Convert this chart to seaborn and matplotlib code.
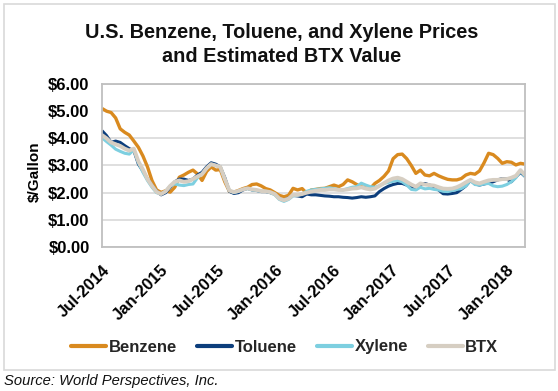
import matplotlib
matplotlib.use('Agg')
import matplotlib.pyplot as plt
from matplotlib.patches import Rectangle
from matplotlib.transforms import ScaledTranslation
from matplotlib.ticker import FuncFormatter, MultipleLocator
import seaborn as sns
import pandas as pd

# ---------------- data (semi-monthly readings, Jul-2014 .. Feb-2018) ----------------
start_date = '2014-07-01'
end_date = '2018-03-01'

benzene = [5.10, 5.00, 4.95, 4.75, 4.35, 4.22, 4.12, 3.90, 3.67, 3.35,
           2.95, 2.44, 2.10, 2.01, 2.07, 2.02, 2.20, 2.57, 2.65, 2.75,
           2.83, 2.69, 2.45, 2.78, 2.95, 2.83, 2.85, 2.40, 2.05, 2.02,
           2.08, 2.15, 2.20, 2.30, 2.32, 2.25, 2.15, 2.10, 2.00, 1.90,
           1.85, 1.90, 2.16, 2.10, 2.15, 1.98, 2.10, 2.12, 2.15, 2.16,
           2.22, 2.28, 2.22, 2.30, 2.47, 2.40, 2.30, 2.22, 2.18, 2.16,
           2.34, 2.45, 2.60, 2.80, 3.25, 3.40, 3.42, 3.25, 3.00, 2.71,
           2.83, 2.65, 2.62, 2.71, 2.62, 2.55, 2.49, 2.47, 2.47, 2.52,
           2.65, 2.71, 2.68, 2.80, 3.10, 3.45, 3.40, 3.26, 3.08, 3.14,
           3.12, 3.02, 3.08, 3.05]

toluene = [4.28, 4.10, 3.85, 3.90, 3.85, 3.73, 3.62, 3.55, 3.05, 2.80,
           2.50, 2.26, 2.05, 1.92, 2.00, 2.20, 2.40, 2.50, 2.50, 2.45,
           2.50, 2.65, 2.75, 2.95, 3.10, 3.05, 2.95, 2.55, 2.05, 1.97,
           2.00, 2.10, 2.16, 2.10, 2.08, 2.04, 2.04, 2.00, 1.95, 1.78,
           1.72, 1.80, 1.90, 1.88, 1.85, 1.95, 1.92, 1.92, 1.90, 1.88,
           1.87, 1.85, 1.85, 1.83, 1.82, 1.80, 1.82, 1.85, 1.83, 1.85,
           1.88, 2.04, 2.15, 2.24, 2.30, 2.34, 2.34, 2.28, 2.22, 2.12,
           2.28, 2.34, 2.28, 2.22, 2.10, 1.96, 1.95, 1.97, 2.00, 2.12,
           2.25, 2.45, 2.32, 2.28, 2.32, 2.36, 2.40, 2.47, 2.52, 2.50,
           2.40, 2.58, 2.75, 2.60]

xylene = [4.02, 3.88, 3.75, 3.60, 3.52, 3.45, 3.42, 3.58, 3.10, 2.75,
          2.45, 2.20, 2.00, 1.95, 2.05, 2.25, 2.32, 2.28, 2.26, 2.30,
          2.32, 2.55, 2.70, 2.90, 3.05, 3.00, 2.95, 2.50, 2.08, 2.00,
          2.05, 2.12, 2.15, 2.10, 2.08, 2.05, 2.05, 2.00, 1.92, 1.75,
          1.68, 1.75, 1.88, 1.90, 1.95, 2.05, 2.10, 2.12, 2.14, 2.16,
          2.18, 2.15, 2.12, 2.10, 2.15, 2.20, 2.22, 2.35, 2.28, 2.22,
          2.20, 2.25, 2.34, 2.38, 2.42, 2.45, 2.40, 2.28, 2.12, 2.10,
          2.20, 2.14, 2.16, 2.12, 2.10, 2.05, 2.04, 2.08, 2.12, 2.15,
          2.25, 2.45, 2.30, 2.28, 2.32, 2.34, 2.25, 2.22, 2.24, 2.30,
          2.40, 2.55, 2.80, 2.60]

btx = [4.12, 4.00, 3.85, 3.78, 3.72, 3.62, 3.55, 3.62, 3.15, 2.85,
       2.50, 2.25, 2.03, 1.95, 2.05, 2.25, 2.40, 2.45, 2.40, 2.42,
       2.50, 2.60, 2.68, 2.90, 3.05, 3.00, 2.95, 2.50, 2.08, 2.02,
       2.06, 2.12, 2.16, 2.12, 2.10, 2.06, 2.05, 2.02, 1.95, 1.78,
       1.72, 1.78, 1.92, 1.92, 1.95, 2.00, 2.04, 2.07, 2.10, 2.10,
       2.12, 2.12, 2.10, 2.10, 2.12, 2.15, 2.16, 2.20, 2.15, 2.12,
       2.15, 2.25, 2.35, 2.45, 2.52, 2.55, 2.50, 2.40, 2.30, 2.22,
       2.34, 2.30, 2.28, 2.26, 2.20, 2.15, 2.14, 2.15, 2.20, 2.28,
       2.38, 2.47, 2.38, 2.34, 2.40, 2.45, 2.47, 2.47, 2.50, 2.50,
       2.55, 2.62, 2.83, 2.65]

series_names = ['Benzene', 'Toluene', 'Xylene', 'BTX']
tick_labels = ['Jul-2014', 'Jan-2015', 'Jul-2015', 'Jan-2016',
               'Jul-2016', 'Jan-2017', 'Jul-2017', 'Jan-2018']

# ---------------- styling ----------------
colors = {'Benzene': '#D98A1F', 'Toluene': '#0C3E7C',
          'Xylene': '#7DCFE0', 'BTX': '#D6CEC2'}
widths = {'Benzene': 2.4, 'Toluene': 2.2, 'Xylene': 2.2, 'BTX': 2.8}

sns.set_theme(style='white')
plt.rcParams['font.family'] = ['Liberation Sans', 'DejaVu Sans']

W, H = 558, 391
fig = plt.figure(figsize=(W / 100, H / 100), dpi=100)
fig.patch.set_facecolor('white')
ax = fig.add_axes([102 / W, 1 - 247 / H, 423 / W, 163 / H])

dates = pd.date_range(start_date, end_date, periods=len(benzene))
values = {'Benzene': benzene, 'Toluene': toluene, 'Xylene': xylene, 'BTX': btx}
df = pd.concat([pd.DataFrame({'Date': dates, 'Price': values[n], 'Product': n})
                for n in series_names], ignore_index=True)

for n in series_names:
    sns.lineplot(data=df[df['Product'] == n], x='Date', y='Price',
                 color=colors[n], linewidth=widths[n], ax=ax, label=n,
                 solid_joinstyle='round', solid_capstyle='butt')

ax.set_xlim(dates[0], dates[-1])
ax.set_ylim(0, 6)
ax.yaxis.set_major_locator(MultipleLocator(1))
ax.yaxis.set_major_formatter(FuncFormatter(lambda v, p: f'${v:.2f}'))
ax.grid(axis='y', color='#D9D9D9', linewidth=1.2)
ax.grid(axis='x', visible=False)
ax.set_axisbelow(True)
for s in ax.spines.values():
    s.set_color('#BFBFBF')
    s.set_linewidth(1.3)

tick_dates = pd.to_datetime(tick_labels, format='%b-%Y')
ax.set_xticks(tick_dates)
ax.set_xticklabels(tick_labels, rotation=45, ha='right', va='top',
                   rotation_mode='anchor', fontsize=12, fontweight='bold')
for lab in ax.get_xticklabels():
    lab.set_transform(lab.get_transform() + ScaledTranslation(0.04, 0, fig.dpi_scale_trans))
for lab in ax.get_yticklabels():
    lab.set_fontsize(12)
    lab.set_fontweight('bold')
ax.tick_params(axis='x', length=0, pad=11, colors='black')
ax.tick_params(axis='y', length=0, pad=9, colors='black')

ax.set_xlabel('')
ax.set_ylabel('$/Gallon', fontsize=11, fontweight='bold', color='black')
ax.yaxis.set_label_coords(-0.142, 0.46)

ax.get_legend().remove()
handles, labels = ax.get_legend_handles_labels()
leg = fig.legend(handles, labels, loc='center', bbox_to_anchor=(285 / W, 1 - 347 / H),
                 ncol=4, frameon=False, handlelength=2.1, handletextpad=0.15,
                 columnspacing=1.2, prop={'weight': 'bold', 'size': 12})
for h in leg.get_lines():
    h.set_linewidth(3)
    h.set_solid_capstyle('round')

fig.text(282 / W, 1 - 44.5 / H,
         'U.S. Benzene, Toluene, and Xylene Prices\nand Estimated BTX Value',
         ha='center', va='center', fontsize=14.3, fontweight='bold',
         linespacing=1.3, color='#111111')

fig.patches.append(Rectangle((3.5 / W, 1 - 370 / H), (555 - 3.5) / W, (370 - 4) / H,
                             transform=fig.transFigure, fill=False,
                             edgecolor='#D9D9D9', linewidth=1.2))

fig.text(4 / W, 1 - 381 / H, 'Source: World Perspectives, Inc.',
         ha='left', va='center', fontsize=10.6, fontstyle='italic', color='#111111')

fig.savefig('out.png', dpi=100)
